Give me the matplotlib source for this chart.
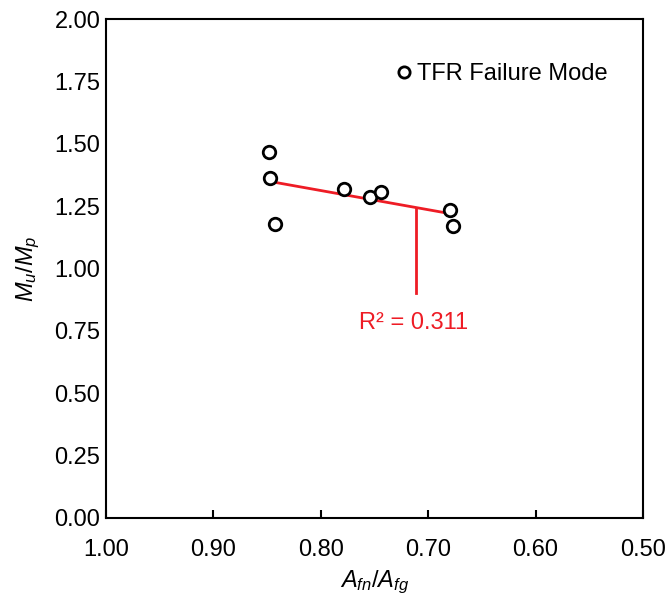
import numpy as np
import matplotlib.pyplot as plt

plt.rcParams['font.family'] = ['Liberation Sans', 'DejaVu Sans']
plt.rcParams['mathtext.fontset'] = 'custom'
plt.rcParams['mathtext.rm'] = 'Liberation Sans'
plt.rcParams['mathtext.it'] = 'Liberation Sans:italic'

# data
afn_afg = [0.848, 0.847, 0.843, 0.778, 0.754, 0.744, 0.680, 0.677]
mu_mp = [1.467, 1.363, 1.178, 1.318, 1.286, 1.305, 1.236, 1.172]
r2_label = "R² = 0.311"

fs = 17
fig = plt.figure(figsize=(6.67, 5.98), dpi=100)
ax = fig.add_axes([0.159, 0.134, 0.805, 0.834])

ax.plot(afn_afg, mu_mp, "o", ms=9, mfc="white", mec="black", mew=2,
        linestyle="none", label="TFR Failure Mode", zorder=3)

# linear trend
x = np.array(afn_afg); y = np.array(mu_mp)
k, b = np.polyfit(x, y, 1)
xt = np.array([x.max(), x.min()])
ax.plot(xt, k * xt + b, color="#ee1c25", lw=2, zorder=2)

# leader line + R2 label
xa = 0.711
ax.plot([xa, xa], [k * xa + b, 0.90], color="#ee1c25", lw=2, zorder=2)
ax.text(0.714, 0.78, r2_label, ha="center", va="center",
        color="#ee1c25", fontsize=fs)

ax.set_xlim(1.0, 0.5)
ax.set_ylim(0, 2.0)
ax.set_xticks(np.arange(1.0, 0.49, -0.1))
ax.set_xticklabels(["1.00", "0.90", "0.80", "0.70", "0.60", "0.50"])
ax.set_yticks(np.arange(0, 2.01, 0.25))
ax.set_yticklabels(["%.2f" % v for v in np.arange(0, 2.01, 0.25)])
ax.tick_params(axis="x", direction="in", length=6, width=1.5, labelsize=fs, pad=15)
ax.tick_params(axis="y", length=0, labelsize=fs, pad=4)
for s in ax.spines.values():
    s.set_linewidth(1.5)
    s.set_color("black")

ax.set_xlabel("$A_{fn}/A_{fg}$", fontsize=fs, labelpad=6)
ax.set_ylabel("$M_u/M_p$", fontsize=fs, labelpad=9)

ax.legend(loc="upper right", bbox_to_anchor=(0.974, 0.955), frameon=False,
          fontsize=fs, handletextpad=0.1, handlelength=0.9, markerscale=0.9)

fig.savefig("out.png", dpi=100)
